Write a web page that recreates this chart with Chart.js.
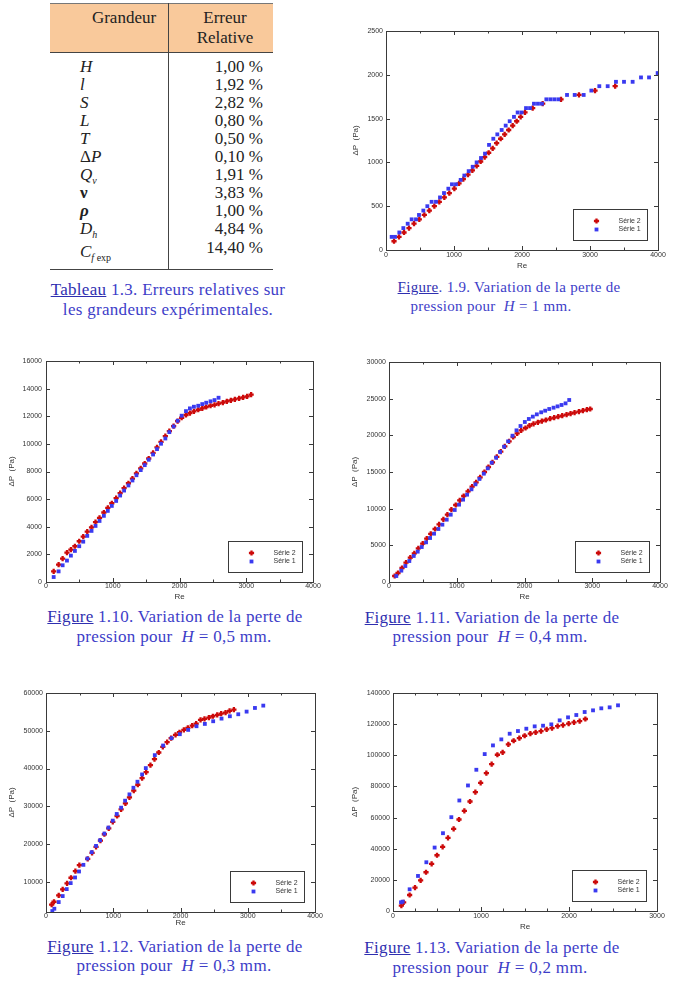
<!DOCTYPE html>
<html><head><meta charset="utf-8">
<script src="https://cdn.jsdelivr.net/npm/chart.js@4.4.1/dist/chart.umd.min.js"></script>
<style>
html,body{margin:0;padding:0;background:#fff;}
body{width:673px;height:994px;overflow:hidden;position:relative;font-family:"Liberation Serif","Times New Roman",serif;color:#222;}
.abs{position:absolute;}
.cap{position:absolute;color:#3d3dc8;font-size:17px;letter-spacing:0.3px;white-space:nowrap;transform:translateX(-50%);line-height:20px;}
.cap.small{font-size:15px;}
.cap u{color:#2f2fb0;}
.row{position:absolute;font-size:17px;line-height:20px;white-space:nowrap;}
.row sub{font-size:10px;vertical-align:-4px;}
.val{position:absolute;font-size:17px;line-height:20px;white-space:nowrap;text-align:right;}
.cv{position:absolute;}
</style>
</head><body>

<!-- Table 1.3 -->
<div class="abs" style="left:50px;top:3px;width:223px;height:49px;background:#f9c99b;"></div>
<div class="abs" style="left:50px;top:3px;width:223px;height:1px;background:#777;"></div>
<div class="abs" style="left:50px;top:52px;width:223px;height:1px;background:#444;"></div>
<div class="abs" style="left:168px;top:3px;width:1px;height:266px;background:#444;"></div>
<div class="abs" style="left:50px;top:269px;width:223px;height:1px;background:#444;"></div>
<div class="row" style="left:124px;top:8px;transform:translateX(-50%);">Grandeur</div>
<div class="row" style="left:225px;top:8px;transform:translateX(-50%);">Erreur</div>
<div class="row" style="left:225px;top:28px;transform:translateX(-50%);">Relative</div>
<div id="tbody"></div>

<div class="cap" style="left:168px;top:280px;"><u>Tableau</u> 1.3. Erreurs relatives sur</div>
<div class="cap" style="left:168px;top:300px;">les grandeurs expérimentales.</div>

<div class="cv" style="left:351px;top:19px;"><canvas id="c19" width="321" height="252"></canvas></div>
<div class="cap small" style="left:509px;top:277px;"><u>Figure</u>. 1.9. Variation de la perte de</div>
<div class="cap small" style="left:491px;top:296px;">pression pour &nbsp;<i>H</i> = 1 mm.</div>

<div class="cv" style="left:7px;top:349px;"><canvas id="c110" width="320" height="253"></canvas></div>
<div class="cap" style="left:175px;top:607px;"><u>Figure</u> 1.10. Variation de la perte de</div>
<div class="cap" style="left:174px;top:627px;">pression pour &nbsp;<i>H</i> = 0,5 mm.</div>

<div class="cv" style="left:350px;top:350px;"><canvas id="c111" width="323" height="252"></canvas></div>
<div class="cap" style="left:492px;top:608px;"><u>Figure</u> 1.11. Variation de la perte de</div>
<div class="cap" style="left:490px;top:627px;">pression pour &nbsp;<i>H</i> = 0,4 mm.</div>

<div class="cv" style="left:7px;top:681px;"><canvas id="c112" width="322" height="247"></canvas></div>
<div class="cap" style="left:175px;top:937px;"><u>Figure</u> 1.12. Variation de la perte de</div>
<div class="cap" style="left:174px;top:956px;">pression pour &nbsp;<i>H</i> = 0,3 mm.</div>

<div class="cv" style="left:350px;top:681px;"><canvas id="c113" width="321" height="251"></canvas></div>
<div class="cap" style="left:492px;top:938px;"><u>Figure</u> 1.13. Variation de la perte de</div>
<div class="cap" style="left:490px;top:958px;">pression pour &nbsp;<i>H</i> = 0,2 mm.</div>

<script>
// ---------- Table data ----------
const tableSymbols = ['<i>H</i>','<i>l</i>','<i>S</i>','<i>L</i>','<i>T</i>','&Delta;<i>P</i>','<i>Q</i><sub><i>v</i></sub>','<b>&nu;</b>','<b><i>&rho;</i></b>','<i>D</i><sub><i>h</i></sub>','<i>C</i><sub><i>f</i> exp</sub>'];
const tableValues = ['1,00 %','1,92 %','2,82 %','0,80 %','0,50 %','0,10 %','1,91 %','3,83 %','1,00 %','4,84 %','14,40 %'];

// ---------- Figure 1.9 (H = 1 mm) ----------
const f19_s2_re = [118,191,265,338,412,490,564,637,711,784,858,931,1005,1074,1137,1206,1270,1333,1392,1451,1510,1569,1627,1686,1745,1804,1863,1922,1980,2044,2157,2304,2574,2838,3074,3370];
const f19_s2_dp = [100,150,200,250,300,350,400,450,500,550,600,650,700,760,810,860,910,960,1010,1060,1110,1160,1220,1270,1320,1370,1420,1470,1520,1570,1620,1670,1720,1770,1820,1870];
const f19_s1_re = [83,132,196,255,319,377,441,485,549,608,671,735,794,853,917,970,1029,1098,1152,1216,1275,1333,1397,1456,1515,1578,1637,1701,1760,1819,1882,1936,1995,2059,2118,2176,2235,2294,2358,2417,2475,2534,2662,2775,2907,3020,3137,3260,3382,3500,3627,3750,3868,3995];
const f19_s1_dp = [150,150,200,250,300,350,350,400,450,500,550,550,600,650,700,750,750,800,850,900,950,1000,1050,1100,1200,1270,1320,1370,1420,1470,1520,1570,1570,1620,1620,1670,1670,1670,1720,1720,1720,1720,1770,1770,1770,1820,1870,1870,1920,1920,1920,1970,1970,2020];
const f19_xTicks = [0,1000,2000,3000,4000];
const f19_xMinor = [500,1500,2500,3500];
const f19_yTicks = [0,500,1000,1500,2000,2500];

// ---------- Figure 1.10 (H = 0,5 mm) ----------
const f110_s2_re = [115,189,249,314,373,433,498,558,618,682,742,802,867,926,986,1051,1111,1170,1235,1295,1355,1419,1479,1539,1604,1663,1723,1788,1848,1912,1972,2032,2097,2156,2216,2281,2341,2400,2465,2525,2585,2649,2709,2769,2829,2893,2953,3013,3073];
const f110_s2_dp = [770,1260,1690,2130,2340,2590,2950,3290,3650,3960,4330,4640,5030,5370,5700,6070,6430,6790,7150,7490,7860,8220,8580,8940,9350,9740,10150,10560,10920,11290,11650,11890,12090,12230,12350,12470,12570,12670,12760,12830,12910,12980,13080,13150,13220,13290,13370,13440,13560];
const f110_s1_re = [115,189,249,314,373,433,498,558,618,682,742,802,867,926,986,1051,1111,1170,1235,1295,1355,1419,1479,1539,1604,1663,1723,1788,1848,1912,1972,2032,2097,2156,2216,2281,2341,2400,2465,2525,2585];
const f110_s1_dp = [360,770,1210,1550,1910,2250,2590,2920,3340,3700,4060,4420,4790,5150,5510,5870,6260,6620,6990,7350,7730,8100,8460,8850,9230,9620,10010,10390,10850,11260,11670,12040,12370,12570,12690,12760,12880,12980,13080,13170,13340];
const f110_xTicks = [0,1000,2000,3000,4000];
const f110_xMinor = [500,1500,2500,3500];
const f110_yTicks = [0,2000,4000,6000,8000,10000,12000,14000,16000];

// ---------- Figure 1.11 (H = 0,4 mm) ----------
const f111_s2_re = [84,133,192,251,315,374,433,498,557,616,680,739,803,862,921,985,1044,1103,1167,1227,1286,1345,1409,1468,1527,1591,1650,1709,1773,1833,1892,1951,2015,2074,2133,2197,2256,2315,2379,2438,2498,2557,2621,2680,2739,2803,2862,2921,2970];
const f111_s2_dp = [820,1230,1910,2640,3320,3910,4590,5230,5910,6550,7230,7860,8550,9180,9860,10500,11140,11730,12360,13000,13590,14270,15000,15680,16320,17050,17770,18500,19180,19770,20270,20680,21000,21320,21550,21770,21950,22090,22270,22410,22550,22680,22820,22950,23090,23230,23360,23500,23590];
const f111_s1_re = [108,182,241,300,365,424,483,547,606,665,729,788,852,911,970,1034,1094,1153,1217,1276,1335,1399,1458,1517,1581,1640,1700,1759,1823,1882,1941,2005,2064,2123,2182,2246,2305,2365,2429,2488,2547,2606,2660];
const f111_s1_dp = [820,1550,2180,2860,3550,4140,4770,5410,6000,6590,7230,7820,8500,9180,9820,10550,11230,11910,12640,13320,14050,14770,15500,16270,16950,17730,18450,19180,19950,20680,21270,21820,22230,22550,22860,23140,23360,23590,23770,23950,24140,24360,24820];
const f111_xTicks = [0,1000,2000,3000,4000];
const f111_xMinor = [500,1500,2500,3500];
const f111_yTicks = [0,5000,10000,15000,20000,25000,30000];

// ---------- Figure 1.12 (H = 0,3 mm) ----------
const f112_s2_re = [84,119,189,248,313,372,437,496,620,685,744,809,868,933,993,1057,1117,1181,1241,1305,1365,1429,1489,1553,1613,1677,1737,1801,1861,1926,1985,2050,2109,2174,2233,2298,2357,2422,2481,2546,2605,2670,2730,2794];
const f112_s2_dp = [3930,4720,6390,7980,9560,11070,12820,14400,16070,17660,19240,20920,22590,24170,25850,27430,29190,30780,32360,34120,35700,37470,39050,40900,42480,44240,45740,46970,48030,48910,49610,50230,50760,51370,51900,52870,53130,53490,53840,54190,54540,54810,55250,55600];
const f112_s1_re = [94,124,189,248,308,367,432,491,556,615,680,744,804,868,928,993,1052,1117,1176,1241,1300,1360,1429,1484,1618,1742,1866,1990,2114,2238,2362,2486,2610,2734,2859,2983,3107,3231];
const f112_s1_dp = [2250,2870,4630,6220,8060,9650,11140,12730,14490,16160,17840,19510,21000,22760,24350,26200,27960,29630,31480,33150,34910,36500,38430,40110,43540,46090,48030,49090,50230,51200,51810,52520,53220,53840,54370,55070,56040,56660];
const f112_xTicks = [0,1000,2000,3000,4000];
const f112_xMinor = [500,1500,2500,3500];
const f112_yTicks = [10000,20000,30000,40000,50000,60000];

// ---------- Figure 1.13 (H = 0,2 mm) ----------
const f113_s2_re = [95,121,189,250,314,375,439,500,564,625,689,750,811,875,936,996,1061,1121,1186,1246,1311,1371,1436,1496,1561,1621,1682,1746,1807,1871,1932,1996,2057,2121,2186];
const f113_s2_dp = [3430,5580,10290,15010,19730,24870,30230,35810,41170,46960,52740,58750,64320,70330,76330,82330,88550,94340,100340,101840,106990,109350,111060,112560,113850,114710,115570,116640,117500,118780,119430,120280,121140,122000,123290];
const f113_s1_re = [91,110,189,284,379,473,568,663,754,852,947,1042,1136,1231,1326,1420,1515,1610,1705,1799,1894,1989,2083,2178,2273,2367,2462,2557];
const f113_s1_dp = [5580,6000,13940,22510,31300,40740,49960,60250,70970,80620,90700,100770,106350,110210,113850,115570,117070,118570,119000,119850,122430,124360,125860,127790,128860,130150,130790,132080];
const f113_xTicks = [0,1000,2000,3000];
const f113_xMinor = [250,500,750,1250,1500,1750,2250,2500,2750];
const f113_yTicks = [0,20000,40000,60000,80000,100000,120000,140000];

const seriesNames = ['Série 2','Série 1'];

// ---------- build table ----------
(function(){
  const rowsY = [67,85,103,121,139,157,175,193,211,229,252];
  const valY  = [67,85,103,121,139,157,175,193,211,229,248];
  const tb = document.getElementById('tbody');
  let html = '';
  tableSymbols.forEach((s,i)=>{
    html += '<div class="row" style="left:80px;top:'+(rowsY[i]-10)+'px;">'+s+'</div>';
    html += '<div class="val" style="right:'+(673-263)+'px;top:'+(valY[i]-10)+'px;">'+tableValues[i]+'</div>';
  });
  tb.innerHTML = html;
})();

// ---------- plugins ----------
const framePlugin = {
  id: 'frame',
  beforeDatasetsDraw(chart, args, opts) {
    const {ctx, chartArea: a, scales: {x, y}} = chart;
    ctx.save();
    ctx.strokeStyle = '#3a3a3a';
    ctx.lineWidth = 1;
    ctx.strokeRect(Math.round(a.left) + 0.5, Math.round(a.top) + 0.5, Math.round(a.right - a.left), Math.round(a.bottom - a.top));
    const tick = (vals, len) => {
      vals.forEach(v => {
        const px = Math.round(x.getPixelForValue(v)) + 0.5;
        ctx.beginPath();
        ctx.moveTo(px, a.bottom); ctx.lineTo(px, a.bottom - len);
        ctx.moveTo(px, a.top); ctx.lineTo(px, a.top + len);
        ctx.stroke();
      });
    };
    const tickY = (vals, len) => {
      vals.forEach(v => {
        const py = Math.round(y.getPixelForValue(v)) + 0.5;
        ctx.beginPath();
        ctx.moveTo(a.left, py); ctx.lineTo(a.left + len, py);
        ctx.moveTo(a.right, py); ctx.lineTo(a.right - len, py);
        ctx.stroke();
      });
    };
    tick(opts.xMajor || [], 4);
    tick(opts.xMinor || [], 2.5);
    tickY(opts.yMajor || [], 4);
    ctx.restore();
  }
};

function drawMarker(ctx, ds, cx, cy) {
  const st = {pointStyle: ds.pointStyle, radius: ds.pointRadius, borderWidth: ds.pointBorderWidth, rotation: 0};
  ctx.fillStyle = ds.pointBackgroundColor;
  ctx.strokeStyle = ds.pointBorderColor;
  ctx.lineWidth = ds.pointBorderWidth;
  if (window.Chart && Chart.helpers && Chart.helpers.drawPoint) {
    Chart.helpers.drawPoint(ctx, st, cx, cy);
  } else {
    ctx.beginPath(); ctx.arc(cx, cy, ds.pointRadius, 0, Math.PI * 2); ctx.fill();
  }
}

const boxLegend = {
  id: 'boxLegend',
  afterDatasetsDraw(chart) {
    const {ctx, chartArea: a} = chart;
    const w = 74, h = 31;
    const bx = Math.round(a.right - 11 - w) + 0.5;
    const by = Math.round(a.bottom - 10 - h) + 0.5;
    ctx.save();
    ctx.fillStyle = '#fff';
    ctx.fillRect(bx, by, w, h);
    ctx.strokeStyle = '#3a3a3a';
    ctx.lineWidth = 1;
    ctx.strokeRect(bx, by, w, h);
    chart.data.datasets.forEach((ds, i) => {
      const ry = by + 11.5 + i * 8.5;
      drawMarker(ctx, ds, bx + 23, ry);
      ctx.fillStyle = '#333';
      ctx.font = '7px "Liberation Sans", Arial, sans-serif';
      ctx.textBaseline = 'middle';
      ctx.textAlign = 'left';
      ctx.fillText(ds.label, bx + 45, ry);
    });
    ctx.restore();
  }
};

function zip(xs, ys) { return xs.map((v, i) => ({x: v, y: ys[i]})); }

function makeChart(id, c) {
  const tickFont = {family: '"Liberation Sans", Arial, sans-serif', size: 7};
  const titleFont = {family: '"Liberation Sans", Arial, sans-serif', size: 8};
  new Chart(document.getElementById(id), {
    type: 'scatter',
    data: {
      datasets: [
        {label: seriesNames[0], data: zip(c.s2x, c.s2y), pointStyle: 'cross', pointRadius: 2.6, pointBorderWidth: 2.3,
         pointBorderColor: '#cc0a0a', pointBackgroundColor: '#cc0a0a', borderColor: '#cc0a0a', backgroundColor: '#cc0a0a', order: 2},
        {label: seriesNames[1], data: zip(c.s1x, c.s1y), pointStyle: 'rect', pointRadius: 2.7, pointBorderWidth: 0,
         pointBorderColor: '#3a3af0', pointBackgroundColor: '#3a3af0', borderColor: '#3a3af0', backgroundColor: '#3a3af0', order: 1}
      ]
    },
    options: {
      responsive: false, animation: false, events: [],
      layout: {padding: {top: c.padTop, right: c.padRight, left: 0, bottom: 0}},
      plugins: {
        legend: {display: false}, tooltip: {enabled: false},
        frame: {xMajor: c.xTicks, xMinor: c.xMinor, yMajor: c.yTicks}
      },
      scales: {
        x: {
          type: 'linear', min: c.xMin, max: c.xMax,
          afterBuildTicks: s => { s.ticks = c.xTicks.map(v => ({value: v})); },
          afterFit: s => { s.height = c.xAxisH; },
          grid: {display: false, drawTicks: false}, border: {display: false},
          ticks: {font: tickFont, color: '#333', padding: c.xPad, maxRotation: 0, autoSkip: false, callback: v => String(v)},
          title: {display: true, text: 'Re', font: titleFont, color: '#333', padding: 0}
        },
        y: {
          type: 'linear', min: c.yMin, max: c.yMax,
          afterBuildTicks: s => { s.ticks = c.yTicks.map(v => ({value: v})); },
          afterFit: s => { s.width = c.yAxisW; },
          grid: {display: false, drawTicks: false}, border: {display: false},
          ticks: {font: tickFont, color: '#333', padding: c.yPad, autoSkip: false, callback: v => String(v)},
          title: {display: true, text: '\u0394P  (Pa)', font: titleFont, color: '#333', padding: 0}
        }
      }
    },
    plugins: [framePlugin, boxLegend]
  });
}

makeChart('c19', {s2x: f19_s2_re, s2y: f19_s2_dp, s1x: f19_s1_re, s1y: f19_s1_dp,
  xTicks: f19_xTicks, xMinor: f19_xMinor, yTicks: f19_yTicks, xMin: 0, xMax: 4000, yMin: 0, yMax: 2500,
  yAxisW: 35, xAxisH: 21, padTop: 12, padRight: 14, xPad: 1, yPad: 3});
makeChart('c110', {s2x: f110_s2_re, s2y: f110_s2_dp, s1x: f110_s1_re, s1y: f110_s1_dp,
  xTicks: f110_xTicks, xMinor: f110_xMinor, yTicks: f110_yTicks, xMin: 0, xMax: 4000, yMin: 0, yMax: 16000,
  yAxisW: 39, xAxisH: 20, padTop: 12, padRight: 14, xPad: 0, yPad: 4});
makeChart('c111', {s2x: f111_s2_re, s2y: f111_s2_dp, s1x: f111_s1_re, s1y: f111_s1_dp,
  xTicks: f111_xTicks, xMinor: f111_xMinor, yTicks: f111_yTicks, xMin: 0, xMax: 4000, yMin: 0, yMax: 30000,
  yAxisW: 39, xAxisH: 20, padTop: 12, padRight: 13, xPad: 0, yPad: 3});
makeChart('c112', {s2x: f112_s2_re, s2y: f112_s2_dp, s1x: f112_s1_re, s1y: f112_s1_dp,
  xTicks: f112_xTicks, xMinor: f112_xMinor, yTicks: f112_yTicks, xMin: 0, xMax: 4000, yMin: 2000, yMax: 60000,
  yAxisW: 39, xAxisH: 16, padTop: 12, padRight: 14, xPad: 0, yPad: 3});
makeChart('c113', {s2x: f113_s2_re, s2y: f113_s2_dp, s1x: f113_s1_re, s1y: f113_s1_dp,
  xTicks: f113_xTicks, xMinor: f113_xMinor, yTicks: f113_yTicks, xMin: 0, xMax: 3000, yMin: 0, yMax: 140000,
  yAxisW: 43, xAxisH: 21, padTop: 12, padRight: 14, xPad: 1, yPad: 3});
</script>
</body></html>
